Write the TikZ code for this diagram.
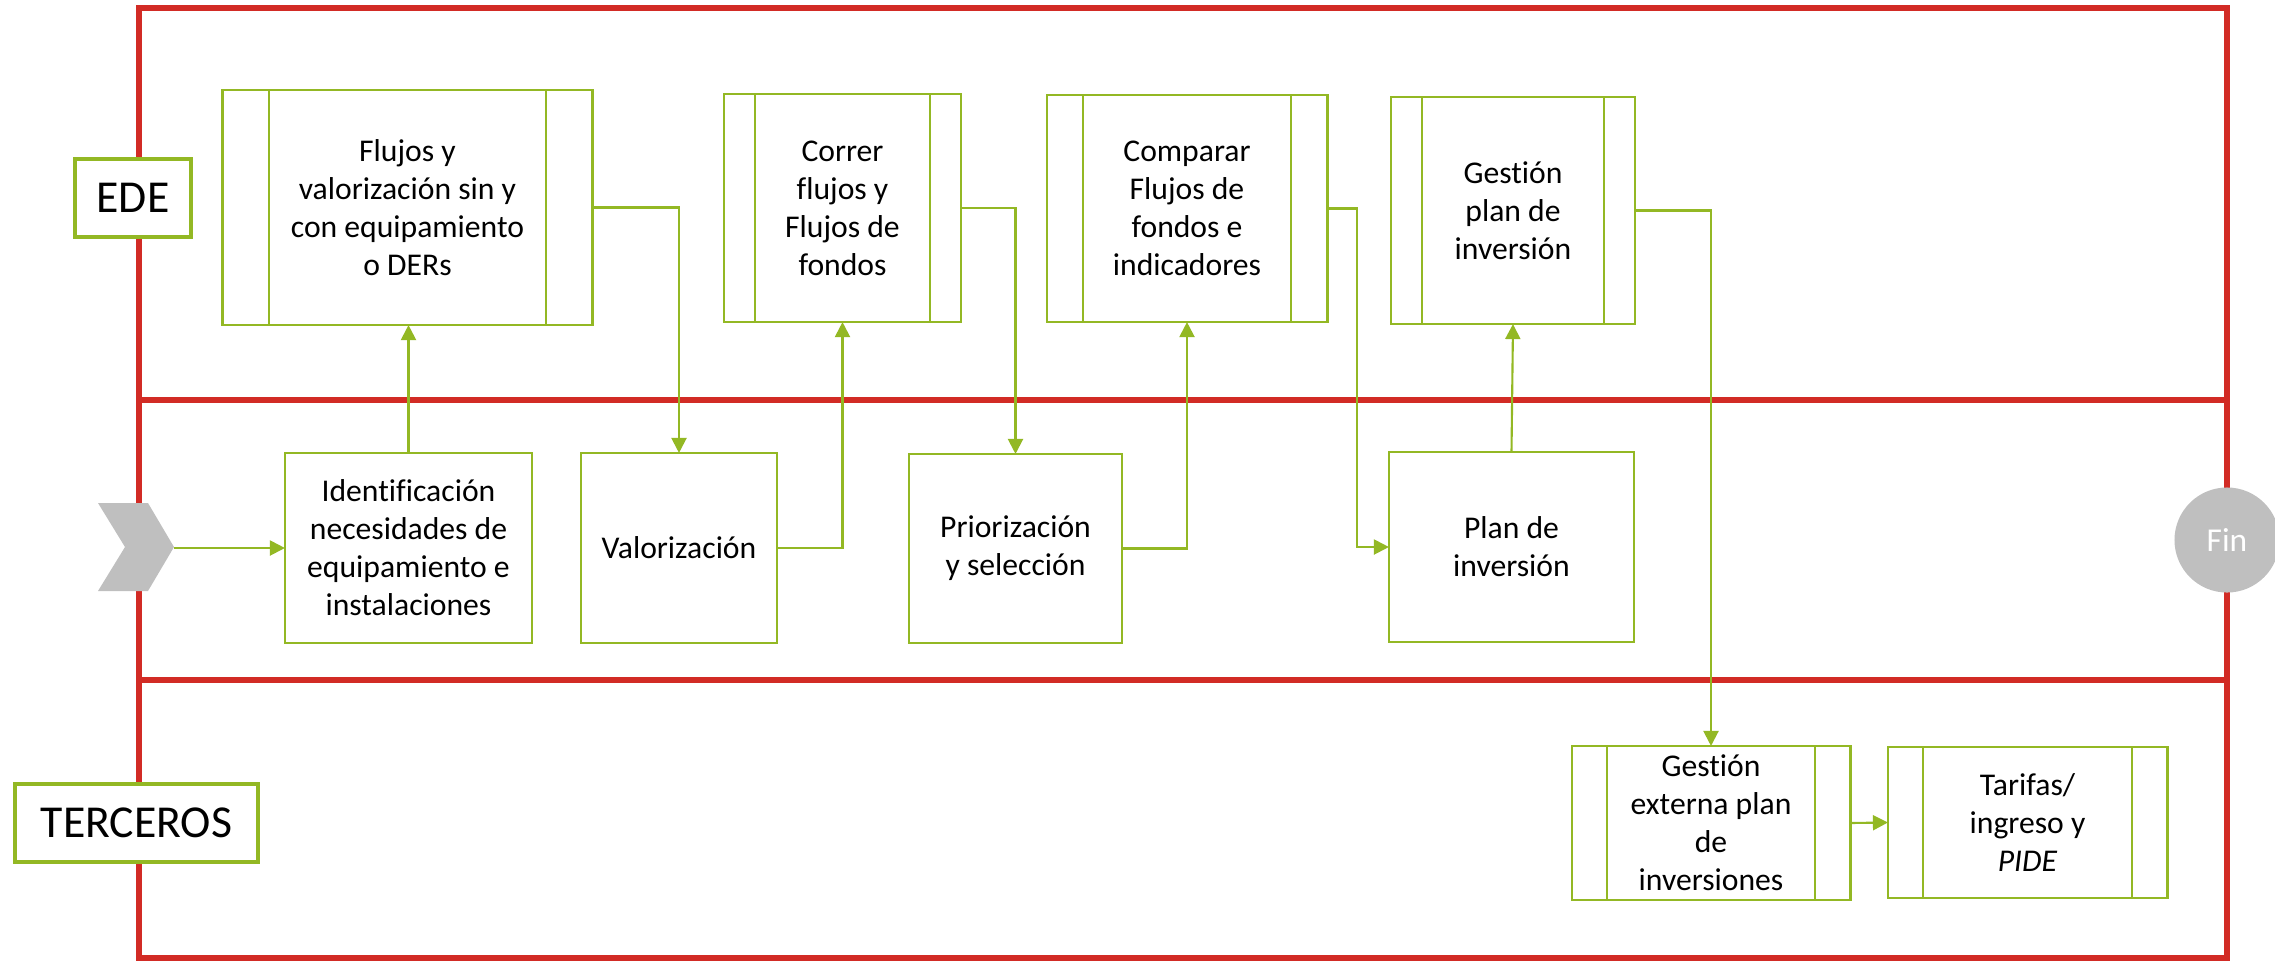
\documentclass[tikz,border=0pt]{standalone}
\usepackage{fontspec}
\setmainfont{Carlito}[Ligatures=CommonOff]
\usetikzlibrary{arrows.meta}
\definecolor{lanered}{RGB}{210,43,37}
\definecolor{flowgreen}{RGB}{147,184,36}
\definecolor{markgray}{RGB}{191,191,191}
\tikzset{
  box/.style={draw=flowgreen, line width=0.8pt, fill=white, inner sep=0pt, outer sep=0pt,
    align=center, font=\fontsize{9pt}{10.8pt}\selectfont},
  subbox/.style={box, path picture={
    \draw[flowgreen, line width=0.8pt]
      ([xshift=#1]path picture bounding box.north west) -- ([xshift=#1]path picture bounding box.south west);
    \draw[flowgreen, line width=0.8pt]
      ([xshift=-#1]path picture bounding box.north east) -- ([xshift=-#1]path picture bounding box.south east);}},
  lanelabel/.style={draw=flowgreen, line width=0.9pt, fill=white, inner sep=0pt, outer sep=0pt,
    font=\fontsize{13pt}{15pt}\selectfont},
  flow/.style={draw=flowgreen, line width=0.6pt, -{Triangle[length=0.15cm,width=0.15cm]}},
  lane/.style={draw=lanered, line width=1.85pt},
  frame/.style={draw=lanered, line width=1.56pt},
  size/.style 2 args={minimum width=#1cm, minimum height=#2cm},
}
\begin{document}
\begin{tikzpicture}[x=0.01cm, y=-0.01cm]
\useasboundingbox (0,0) rectangle (2275,960);

% swimlane frame and separators
\draw[frame] (139,8) rectangle (2227,958);
\draw[lane] (139,400) -- (2227,400);
\draw[lane] (139,680) -- (2227,680);

% start marker
\fill[markgray] (98,503) -- (148,503) -- (174,547) -- (148,591) -- (98,591) -- (125,547) -- cycle;
\coordinate (start) at (174,548);

% EDE lane
\node[subbox=0.46cm, size={3.69}{2.35}] (A) at (407.5,207.5)
  {Flujos y\\valorización sin y\\con equipamiento\\o DERs};
\node[subbox=0.31cm, size={2.37}{2.28}] (B) at (842.5,208)
  {Correr\\flujos y\\Flujos de\\fondos};
\node[subbox=0.36cm, size={2.80}{2.27}] (C) at (1187,208.5)
  {Comparar\\Flujos de\\fondos e\\indicadores};
\node[subbox=0.31cm, size={2.44}{2.27}] (D) at (1513,210.5)
  {Gestión\\plan de\\inversión};

% middle lane
\node[box, size={2.47}{1.90}] (E) at (408.5,548)
  {Identificación\\necesidades de\\equipamiento e\\instalaciones};
\node[box, size={1.96}{1.90}] (F) at (679,548) {Valorización};
\node[box, size={2.13}{1.89}] (G) at (1015.5,548.5) {Priorización\\y selección};
\node[box, size={2.45}{1.90}] (H) at (1511.5,547) {Plan de\\inversión};

% TERCEROS lane
\node[subbox=0.35cm, size={2.78}{1.54}] (I) at (1711,823)
  {Gestión\\externa plan\\de\\inversiones};
\node[subbox=0.35cm, size={2.79}{1.51}] (J) at (2027.5,822.5)
  {Tarifas/\\ingreso y\\\textit{PIDE}};

% lane labels
\node[lanelabel, size={1.16}{0.78}] (ede) at (133,198) {EDE};
\node[lanelabel, size={2.43}{0.78}] (terceros) at (136.5,823) {TERCEROS};

% connectors
\draw[flow] (start) -- (E.west);
\draw[flow] (E.north) -- (E.north |- A.south);
\draw[flow] (A.east) -| (F.north);
\draw[flow] (F.east) -| (B.south);
\draw[flow] (B.east) -| (G.north);
\draw[flow] (G.east) -| (C.south);
\draw[flow] (C.east) -- ++(30,0) |- (H.west);
\draw[flow] (H.north) -- (D.south);
\draw[flow] (D.east) -| (I.north);
\draw[flow] (I.east) -- (J.west);

% end marker
\node[circle, fill=markgray, minimum size=1.05cm, inner sep=0pt, text=white,
  font=\fontsize{9.5pt}{11pt}\selectfont] (fin) at (2227,540) {Fin};
\end{tikzpicture}
\end{document}
